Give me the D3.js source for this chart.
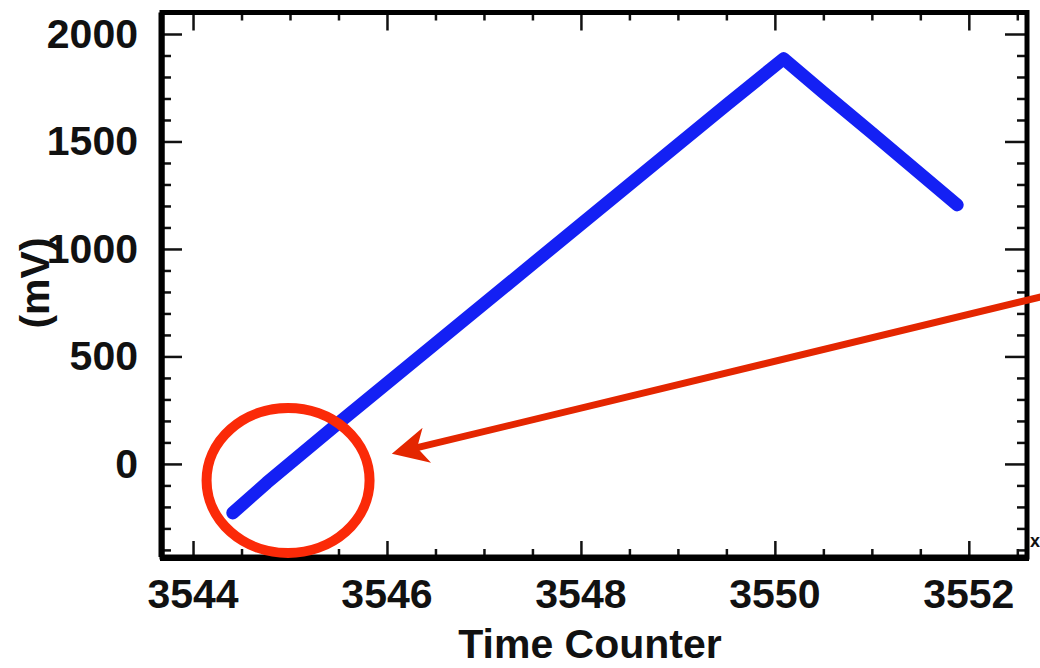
<!DOCTYPE html>
<html>
<head>
<meta charset="utf-8">
<script src="https://cdn.jsdelivr.net/npm/d3@7"></script>
<style>
  html, body { margin: 0; padding: 0; background: #fff; overflow: hidden; }
  svg { display: block; }
  text { font-family: "Liberation Sans", Arial, Helvetica, sans-serif; font-weight: bold; fill: #111; }
</style>
</head>
<body>
<svg id="chart" width="1040" height="668"></svg>
<script>
// ---- data ----
const timeCounter = [3544.41, 3544.76, 3545.5, 3546.5, 3547.5, 3548.5, 3549.5, 3550.09, 3550.5, 3551.0, 3551.88];
const voltageMV   = [-228,    -88,     190,    560,    930,    1300,   1670,   1885,    1728,   1540,   1205];
const xTickLabels = [3544, 3546, 3548, 3550, 3552];
const yTickLabels = [0, 500, 1000, 1500, 2000];
const xTitle = "Time Counter";
const yTitle = "(mV)";
// annotation (data coordinates)
const circleCenter = [3544.98, -77];
const arrowTip  = [3546.05, 47];
const arrowTail = [3552.78, 781];

// ---- layout ----
const W = 1040, H = 668;
const mLeft = 162, mRight = 1027, mTop = 12.5, mBottom = 557;

const x = d3.scaleLinear().domain([3543.68, 3552.6]).range([mLeft, mRight]);
const y = d3.scaleLinear().domain([-433, 2100]).range([mBottom, mTop]);

const svg = d3.select("#chart");

// data line
const pts = timeCounter.map((t, i) => [t, voltageMV[i]]);
svg.append("path")
  .datum(pts)
  .attr("d", d3.line().x(d => x(d[0])).y(d => y(d[1])))
  .attr("fill", "none")
  .attr("stroke", "#1420f4")
  .attr("stroke-width", 13)
  .attr("stroke-linejoin", "round")
  .attr("stroke-linecap", "round");

// ticks (inward) using d3 axes
const xMinor = d3.range(3544, 3552.6, 0.5).filter(v => v % 2 !== 0);
const yMinor = d3.range(-400, 2100, 100).filter(v => v % 500 !== 0);

function styleAxis(g) {
  g.select(".domain").remove();
  g.selectAll(".tick line").attr("stroke", "#111").attr("stroke-width", 2.5);
}

// bottom
svg.append("g").attr("transform", `translate(0,${mBottom})`)
  .call(d3.axisTop(x).tickValues(xTickLabels).tickSize(16).tickFormat(""))
  .call(styleAxis);
svg.append("g").attr("transform", `translate(0,${mBottom})`)
  .call(d3.axisTop(x).tickValues(xMinor).tickSize(8).tickFormat(""))
  .call(styleAxis);
// top
svg.append("g").attr("transform", `translate(0,${mTop})`)
  .call(d3.axisBottom(x).tickValues(xTickLabels).tickSize(18).tickFormat(""))
  .call(styleAxis);
svg.append("g").attr("transform", `translate(0,${mTop})`)
  .call(d3.axisBottom(x).tickValues(xMinor).tickSize(8).tickFormat(""))
  .call(styleAxis);
// left
svg.append("g").attr("transform", `translate(${mLeft},0)`)
  .call(d3.axisRight(y).tickValues(yTickLabels).tickSize(20).tickFormat(""))
  .call(styleAxis);
svg.append("g").attr("transform", `translate(${mLeft},0)`)
  .call(d3.axisRight(y).tickValues(yMinor).tickSize(9).tickFormat(""))
  .call(styleAxis);
// right
svg.append("g").attr("transform", `translate(${mRight},0)`)
  .call(d3.axisLeft(y).tickValues(yTickLabels).tickSize(22).tickFormat(""))
  .call(styleAxis);
svg.append("g").attr("transform", `translate(${mRight},0)`)
  .call(d3.axisLeft(y).tickValues(yMinor).tickSize(10).tickFormat(""))
  .call(styleAxis);

// frame
svg.append("rect")
  .attr("x", mLeft).attr("y", mTop)
  .attr("width", mRight - mLeft).attr("height", mBottom - mTop)
  .attr("fill", "none").attr("stroke", "#000").attr("stroke-width", 5);
svg.append("line")
  .attr("x1", mLeft - 2).attr("x2", mRight + 2).attr("y1", mBottom + 1).attr("y2", mBottom + 1)
  .attr("stroke", "#000").attr("stroke-width", 6);
svg.append("line")
  .attr("x1", mLeft - 0.5).attr("x2", mLeft - 0.5).attr("y1", mTop).attr("y2", mBottom)
  .attr("stroke", "#000").attr("stroke-width", 6);

// tick labels
svg.append("g").selectAll("text").data(yTickLabels).join("text")
  .attr("x", mLeft - 24).attr("y", d => y(d) + 14)
  .attr("text-anchor", "end")
  .attr("font-size", 41)
  .text(d => d);
svg.append("g").selectAll("text").data(xTickLabels).join("text")
  .attr("x", d => x(d)).attr("y", 608)
  .attr("text-anchor", "middle")
  .attr("font-size", 41)
  .text(d => d);

// axis titles
svg.append("text")
  .attr("x", 590).attr("y", 658)
  .attr("text-anchor", "middle")
  .attr("font-size", 41)
  .text(xTitle);
svg.append("text")
  .attr("transform", "translate(49,283) rotate(-90)")
  .attr("text-anchor", "middle")
  .attr("font-size", 41)
  .text(yTitle);

// multiplier glyph at right edge (only its first letter is visible in the reference)
svg.append("text")
  .attr("x", 1030).attr("y", 547)
  .attr("font-size", 18)
  .attr("font-weight", "normal")
  .attr("fill", "#444")
  .text("x");

// annotation: red ellipse
svg.append("ellipse")
  .attr("cx", x(circleCenter[0])).attr("cy", y(circleCenter[1]))
  .attr("rx", 81.5).attr("ry", 72.5)
  .attr("fill", "none")
  .attr("stroke", "#fb2a08")
  .attr("stroke-width", 10);

// annotation: red arrow
const tx = x(arrowTip[0]), ty = y(arrowTip[1]);
const sx = x(arrowTail[0]), sy = y(arrowTail[1]);
const ang = Math.atan2(ty - sy, tx - sx) * 180 / Math.PI;
const len = Math.hypot(tx - sx, ty - sy);
const arrow = svg.append("g")
  .attr("transform", `translate(${sx},${sy}) rotate(${ang})`);
arrow.append("line")
  .attr("x1", 0).attr("y1", 0).attr("x2", len - 25).attr("y2", 0)
  .attr("stroke", "#e42600").attr("stroke-width", 7);
arrow.append("path")
  .attr("d", `M${len},0 L${len - 36},-18 L${len - 26},0 L${len - 36},18 Z`)
  .attr("fill", "#e42600");
</script>
</body>
</html>
